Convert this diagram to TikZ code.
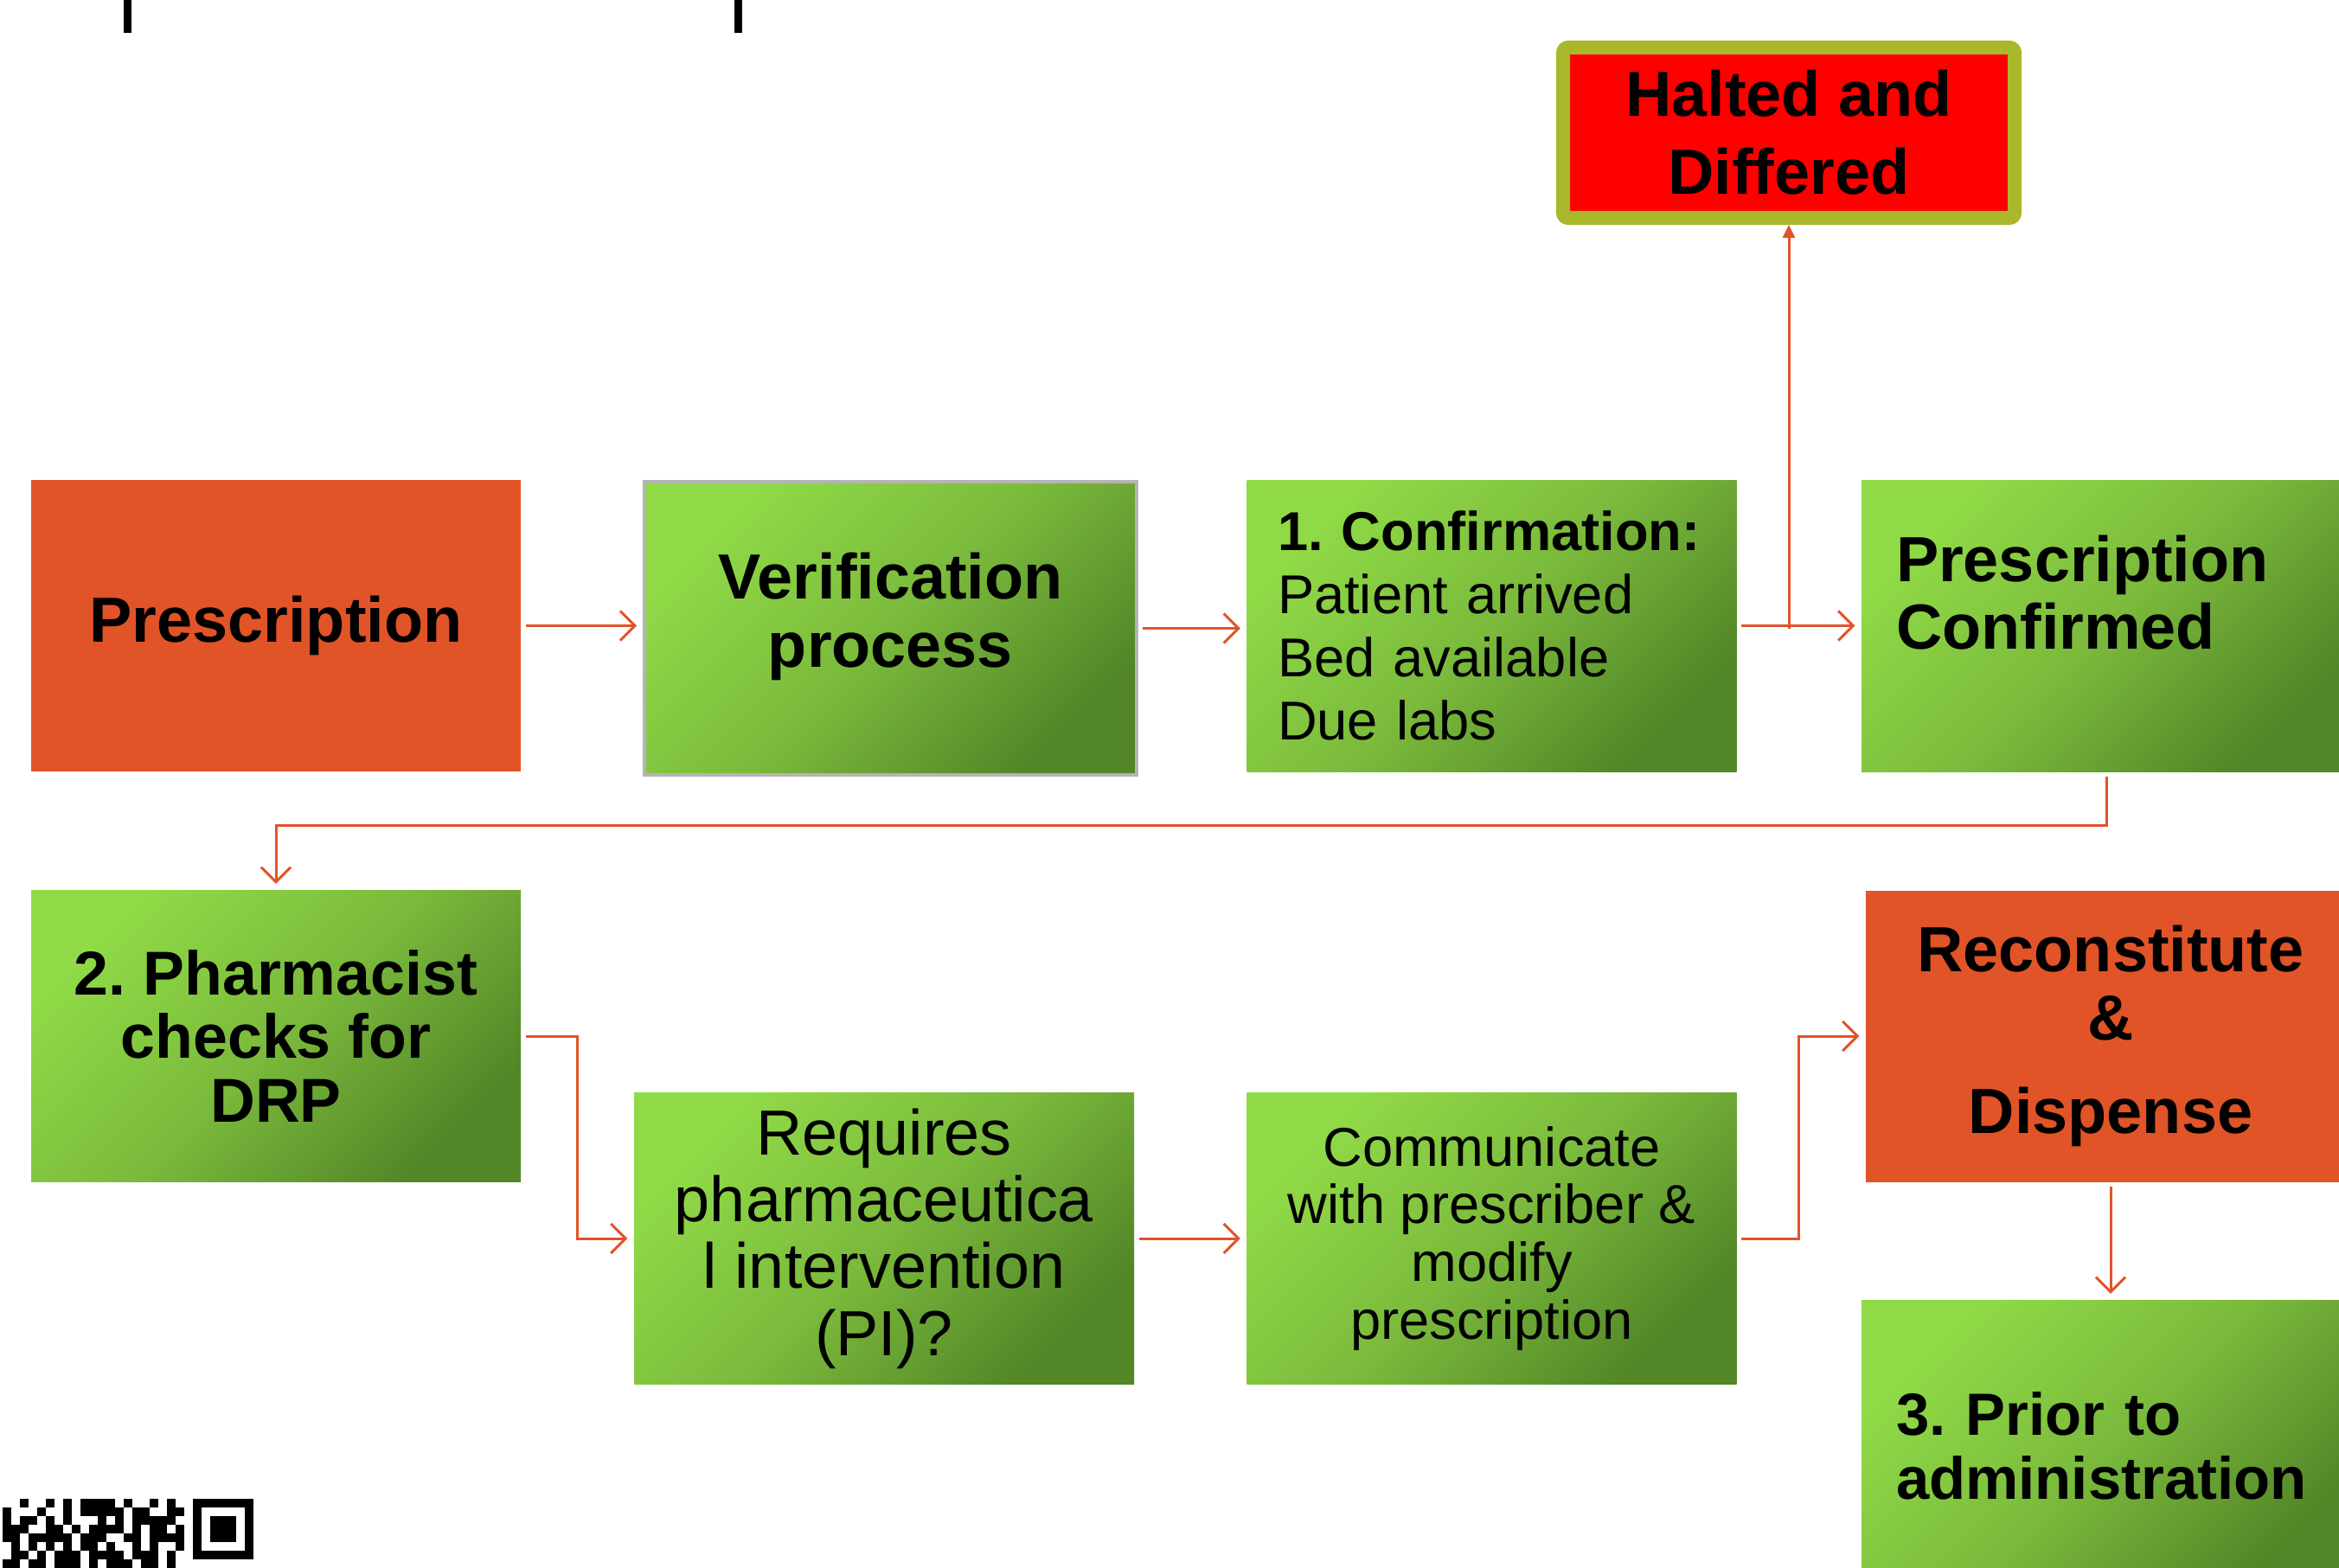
\documentclass[tikz,border=0pt]{standalone}
\usepackage{fontspec}
\setmainfont{Liberation Sans}
\usetikzlibrary{arrows.meta}
\definecolor{boxorange}{HTML}{E05428}
\definecolor{flow}{HTML}{E2532A}
\definecolor{haltred}{HTML}{FF0000}
\definecolor{haltrim}{HTML}{A9B82B}
\definecolor{grlight}{HTML}{90DA47}
\definecolor{grmid}{HTML}{7BBA3C}
\definecolor{grdark}{HTML}{528627}
\definecolor{vframe}{HTML}{B4B4B4}

\begin{document}
\frenchspacing
\begin{tikzpicture}[
  box/.style={minimum width=5.66cm, minimum height=3.37cm, inner sep=0pt},
  greenbox/.style={box, top color=grlight, bottom color=grdark, middle color=grmid, shading angle=45},
  orangebox/.style={box, fill=boxorange},
  titlefont/.style={font=\fontsize{21}{22.5}\selectfont\bfseries, align=center},
  leftcol/.style={text width=#1, align=left},
  leftcol/.default=4.86cm,
  flowline/.style={draw=flow, line width=0.03cm, -{Straight Barb[length=0.17cm,width=0.34cm]}, shorten <=0.05cm, shorten >=0.07cm}
]
\useasboundingbox (0,0) rectangle (27.04,-18.13);
\clip (0,0) rectangle (27.04,-18.13);

% first row
\node[orangebox, titlefont] (presc) at (3.19,-7.235) {Prescription};
\node[greenbox, titlefont, draw=vframe, line width=0.04cm, minimum width=5.69cm, minimum height=3.39cm] (verif) at (10.295,-7.265) {Verification\\process\\[-0.36cm]\mbox{}};
\node[greenbox, leftcol=4.95cm, font=\fontsize{18}{20.8}\selectfont] (confirm) at (17.245,-7.235) {\textbf{1. Confirmation:}\\Patient arrived\\Bed available\\Due labs};
\node[greenbox, leftcol, font=\fontsize{21}{22}\selectfont\bfseries] (pconf) at (24.35,-7.235) {Prescription\\Confirmed\\\mbox{}};
\node[draw=haltrim, fill=haltred, line width=0.16cm, rounded corners=0.06cm, minimum width=5.22cm, minimum height=1.97cm, font=\fontsize{21}{25.6}\selectfont\bfseries, align=center] (halt) at (20.68,-1.535) {Halted and\\Differed};

% second row
\node[greenbox, font=\fontsize{20.4}{21}\selectfont\bfseries, align=center] (pharm) at (3.19,-11.98) {2. Pharmacist\\checks for\\DRP};
\node[greenbox, minimum width=5.78cm, font=\fontsize{21}{22}\selectfont, align=center] (requires) at (10.22,-14.32) {Requires\\pharmaceutica\\l intervention\\(PI)?};
\node[greenbox, font=\fontsize{18}{19}\selectfont, align=center] (comm) at (17.245,-14.32) {Communicate\\with prescriber \&\\modify\\prescription};
\node[orangebox, titlefont] (recon) at (24.40,-11.98) {Reconstitute\\\&\\[0.29cm]Dispense};
\node[greenbox, leftcol, font=\fontsize{19.6}{21}\selectfont\bfseries] (prior) at (24.35,-16.72) {3. Prior to\\administration};

% connectors
\draw[flowline] (presc.east) -- (presc.east -| verif.west);
\draw[flowline] (verif.east) -- (verif.east -| confirm.west);
\draw[flowline] (confirm.east) -- (confirm.east -| pconf.west);
\coordinate (fork) at (confirm.east -| halt.south);
\draw[flow, line width=0.03cm, -{Triangle[length=0.15cm,width=0.14cm]}] ([yshift=-0.03cm]fork) -- (halt.south);
\draw[flowline] (pconf.south) -- ++(0,-0.62) -| (pharm.north);
\draw[flowline] (pharm.east) -- ++(0.65,0) |- (requires.west);
\draw[flowline] (requires) -- (comm);
\draw[flowline] (comm.east) -- ++(0.71,0) |- (recon.west);
\draw[flowline] (recon.south) -- (recon.south |- prior.north);

% cut-off glyphs at the top
\fill (1.43,0) rectangle (1.52,-0.38);
\fill (8.49,0) rectangle (8.58,-0.38);

% partial code in the corner
\foreach \r/\cl in {0/{2,5,7,9,10,11,12,14,17,19},
                    1/{0,4,7,9,10,11,12,13,15,16,19,20},
                    2/{0,2,3,5,7,11,13,15,16,17,18,19},
                    3/{0,1,2,5,6,8,10,11,12,13,15,17,18,20},
                    4/{0,1,3,4,5,6,7,9,10,11,14,15,17,18,19,20},
                    5/{1,3,5,7,9,10,12,15,17,20},
                    6/{1,2,4,6,7,8,10,11,12,13,15,16,17,19},
                    7/{0,1,3,4,6,7,8,10,12,13,14,16,17,19}}
  \foreach \c in \cl
    \fill (0.033+0.1*\c,-17.33-0.1*\r) rectangle ++(0.1,-0.1);
\fill (2.233,-17.33) rectangle ++(0.7,-0.7);
\fill[white] (2.333,-17.43) rectangle ++(0.5,-0.5);
\fill (2.433,-17.53) rectangle ++(0.3,-0.3);
\end{tikzpicture}
\end{document}
